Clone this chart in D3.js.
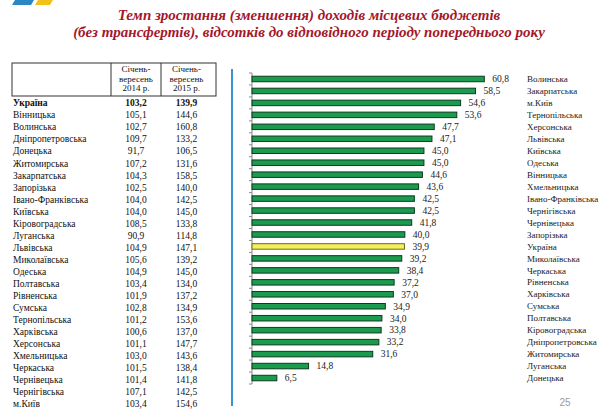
<!DOCTYPE html>
<html>
<head>
<meta charset="utf-8">
<script src="https://cdn.jsdelivr.net/npm/d3@7"></script>
<style>
  html, body { margin: 0; padding: 0; background: #fff; }
  svg { display: block; }
</style>
</head>
<body>
<div id="chart"></div>
<script>
// ─── DATA ─────────────────────────────────────────────────────────────────────

const TITLE_LINES = [
  "Темп зростання (зменшення) доходів місцевих бюджетів",
  "(без трансфертів), відсотків до відповідного періоду попереднього року"
];

const HEADER_2014 = ["Січень-", "вересень", "2014 р."];
const HEADER_2015 = ["Січень-", "вересень", "2015 р."];

const tableRegions = [
  "Україна", "Вінницька", "Волинська", "Дніпропетровська", "Донецька",
  "Житомирська", "Закарпатська", "Запорізька", "Івано-Франківська", "Київська",
  "Кіровоградська", "Луганська", "Львівська", "Миколаївська", "Одеська",
  "Полтавська", "Рівненська", "Сумська", "Тернопільська", "Харківська",
  "Херсонська", "Хмельницька", "Черкаська", "Чернівецька", "Чернігівська", "м.Київ"
];
const values2014 = [
  103.2, 105.1, 102.7, 109.7, 91.7, 107.2, 104.3, 102.5, 104.0, 104.0,
  108.5, 90.9, 104.9, 105.6, 104.9, 103.4, 101.9, 102.8, 101.2, 100.6,
  101.1, 103.0, 101.5, 101.4, 107.1, 103.4
];
const values2015 = [
  139.9, 144.6, 160.8, 133.2, 106.5, 131.6, 158.5, 140.0, 142.5, 145.0,
  133.8, 114.8, 147.1, 139.2, 145.0, 134.0, 137.2, 134.9, 153.6, 137.0,
  147.7, 143.6, 138.4, 141.8, 142.5, 154.6
];

const barRegions = [
  "Волинська", "Закарпатська", "м.Київ", "Тернопільська", "Херсонська",
  "Львівська", "Київська", "Одеська", "Вінницька", "Хмельницька",
  "Івано-Франківська", "Чернігівська", "Чернівецька", "Запорізька", "Україна",
  "Миколаївська", "Черкаська", "Рівненська", "Харківська", "Сумська",
  "Полтавська", "Кіровоградська", "Дніпропетровська", "Житомирська", "Луганська", "Донецька"
];
const barValues = [
  60.8, 58.5, 54.6, 53.6, 47.7, 47.1, 45.0, 45.0, 44.6, 43.6,
  42.5, 42.5, 41.8, 40.0, 39.9, 39.2, 38.4, 37.2, 37.0, 34.9,
  34.0, 33.8, 33.2, 31.6, 14.8, 6.5
];

const HIGHLIGHT = "Україна";
const PAGE_NUMBER = "25";

// ─── SETUP ────────────────────────────────────────────────────────────────────

const W = 600, H = 411;
const SERIF = "'Liberation Serif', 'DejaVu Serif', serif";
const uaLocale = d3.formatLocale({ decimal: ",", thousands: " ", grouping: [3], currency: ["", ""] });
const fmt1 = uaLocale.format(".1f");

const svg = d3.select("#chart").append("svg")
  .attr("width", W).attr("height", H)
  .attr("viewBox", `0 0 ${W} ${H}`);

// logo fragment (top-left corner)
const logo = svg.append("g");
logo.append("polygon").attr("points", "15,0 34,0 31,5 12,5").attr("fill", "#2a86c4");
logo.append("polygon").attr("points", "38,0 53,0 50,5 35,5").attr("fill", "#f2c21b");

// title
svg.append("g").selectAll("text")
  .data(TITLE_LINES)
  .join("text")
  .attr("x", 309)
  .attr("y", (d, i) => 20 + i * 17)
  .attr("text-anchor", "middle")
  .style("font-family", SERIF)
  .style("font-style", "italic")
  .style("font-weight", "bold")
  .style("font-size", "15px")
  .style("fill", "#a3182b")
  .text(d => d);

// ─── TABLE ────────────────────────────────────────────────────────────────────

const table = svg.append("g").style("font-family", SERIF).style("fill", "#111");
const tbl = { left: 12, div1: 111, div2: 161, right: 216, top: 63, bottom: 96 };

table.append("rect")
  .attr("x", tbl.left).attr("y", tbl.top)
  .attr("width", tbl.right - tbl.left).attr("height", tbl.bottom - tbl.top)
  .attr("fill", "none").attr("stroke", "#333").attr("stroke-width", 1);
[tbl.div1, tbl.div2].forEach(x => {
  table.append("line")
    .attr("x1", x).attr("x2", x).attr("y1", tbl.top).attr("y2", tbl.bottom)
    .attr("stroke", "#333").attr("stroke-width", 1);
});

const col1X = (tbl.div1 + tbl.div2) / 2;
const col2X = (tbl.div2 + tbl.right) / 2 - 2;

[[HEADER_2014, col1X], [HEADER_2015, col2X]].forEach(([lines, cx]) => {
  table.append("g").selectAll("text")
    .data(lines)
    .join("text")
    .attr("x", cx)
    .attr("y", (d, i) => 72 + i * 9.5)
    .attr("text-anchor", "middle")
    .style("font-size", "9px")
    .text(d => d);
});

const rowY = d3.scalePoint().domain(tableRegions).range([103, 404]);

const rows = table.append("g").selectAll("g")
  .data(tableRegions.map((name, i) => ({ name, a: values2014[i], b: values2015[i] })))
  .join("g")
  .attr("transform", d => `translate(0,${rowY(d.name)})`)
  .style("font-size", "9.5px")
  .style("font-weight", d => d.name === HIGHLIGHT ? "bold" : "normal");

rows.append("text").attr("x", 13).attr("dy", "0.35em").text(d => d.name);
rows.append("text").attr("x", col1X).attr("dy", "0.35em").attr("text-anchor", "middle").text(d => fmt1(d.a));
rows.append("text").attr("x", col2X).attr("dy", "0.35em").attr("text-anchor", "middle").text(d => fmt1(d.b));

// separator line
svg.append("line")
  .attr("x1", 232).attr("x2", 232).attr("y1", 69).attr("y2", 406)
  .attr("stroke", "#3a94d4").attr("stroke-width", 2);

// ─── BAR CHART ────────────────────────────────────────────────────────────────

const x = d3.scaleLinear().domain([0, 60.8]).range([252, 484.3]);
const y = d3.scaleBand().domain(barRegions).range([73, 384])
  .paddingInner(0.54).paddingOuter(0.27);

const chart = svg.append("g");

// axis line with ticks at category boundaries
chart.append("line")
  .attr("x1", x(0)).attr("x2", x(0)).attr("y1", y.range()[0]).attr("y2", y.range()[1])
  .attr("stroke", "#8a8a8a").attr("stroke-width", 1);

const boundaries = barRegions.map(r => y(r) - y.step() * y.paddingOuter()).concat([y.range()[1]]);
chart.append("g").selectAll("line")
  .data(boundaries)
  .join("line")
  .attr("x1", x(0) - 3).attr("x2", x(0))
  .attr("y1", d => d).attr("y2", d => d)
  .attr("stroke", "#8a8a8a").attr("stroke-width", 1);

const bars = barRegions.map((name, i) => ({ name, value: barValues[i] }));

chart.append("g").selectAll("rect")
  .data(bars)
  .join("rect")
  .attr("x", x(0))
  .attr("y", d => y(d.name))
  .attr("width", d => x(d.value) - x(0))
  .attr("height", y.bandwidth())
  .attr("fill", d => d.name === HIGHLIGHT ? "#f4ef5c" : "#1a9b4e")
  .attr("stroke", d => d.name === HIGHLIGHT ? "#6d6a1c" : "#0d3b1f")
  .attr("stroke-width", 1);

chart.append("g").selectAll("text")
  .data(bars)
  .join("text")
  .attr("x", d => x(d.value) + 8)
  .attr("y", d => y(d.name) + y.bandwidth() / 2)
  .attr("dy", "0.35em")
  .style("font-family", SERIF)
  .style("font-size", "9.5px")
  .style("fill", "#222")
  .text(d => fmt1(d.value));

chart.append("g").selectAll("text")
  .data(bars)
  .join("text")
  .attr("x", 527)
  .attr("y", d => y(d.name) + y.bandwidth() / 2)
  .attr("dy", "0.35em")
  .style("font-family", SERIF)
  .style("font-size", "9px")
  .style("fill", "#222")
  .text(d => d.name);

// page number
svg.append("text")
  .attr("x", 565).attr("y", 402).attr("dy", "0.35em")
  .attr("text-anchor", "middle")
  .style("font-family", "'Liberation Sans', Arial, sans-serif")
  .style("font-size", "10px")
  .style("fill", "#9a9a9a")
  .text(PAGE_NUMBER);
</script>
</body>
</html>
